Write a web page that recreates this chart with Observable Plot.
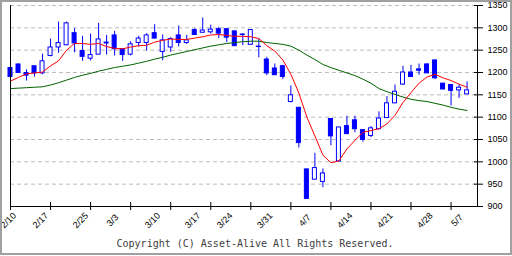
<!DOCTYPE html>
<html><head><meta charset="utf-8">
<script src="https://cdn.jsdelivr.net/npm/d3@7"></script>
<script src="https://cdn.jsdelivr.net/npm/@observablehq/plot@0.6"></script>
<style>
body{margin:0;background:#fff}
#wrap{position:relative;width:512px;height:256px;overflow:hidden;background:#fff}
#border{position:absolute;left:0;top:0;width:512px;height:255px;box-sizing:border-box;border:2px solid #a0a0a0;pointer-events:none}
</style></head><body>
<div id="wrap"><div id="border"></div></div>
<script>
// Daily candles (index = trading day)
const opens  = [1210,1218,1199,1214,1198,1237,1256,1261,1288,1248,1231,1240,1265,1283,1252,1240,1266,1266,1288,1246,1256,1283,1266,1295,1289,1290,1297,1297,1292,1284,1262,1258,1229,1209,1214,1134,1121,983,960,955,1096,1001,1080,1093,1071,1058,1073,1098,1131,1173,1200,1207,1218,1227,1175,1172,1160,1151];
const highs  = [1211,1219,1206,1214,1241,1275,1313,1313,1298,1281,1286,1310,1283,1292,1253,1269,1281,1287,1307,1284,1278,1304,1283,1298,1322,1306,1301,1297,1293,1287,1295,1275,1234,1219,1216,1170,1122,984,1019,984,1096,1077,1102,1102,1072,1079,1112,1146,1172,1214,1216,1219,1220,1228,1176,1172,1173,1179];
const lows   = [1190,1199,1181,1190,1195,1235,1243,1260,1244,1225,1226,1240,1239,1237,1225,1237,1257,1248,1275,1226,1245,1257,1263,1283,1289,1286,1276,1267,1259,1260,1262,1233,1193,1194,1184,1132,1031,917,960,942,1036,1000,1062,1065,1044,1054,1073,1097,1130,1171,1189,1194,1198,1184,1161,1125,1142,1151];
const closes = [1190,1199,1193,1198,1225,1256,1266,1310,1265,1235,1239,1274,1267,1252,1239,1263,1276,1283,1276,1272,1275,1266,1272,1284,1294,1296,1287,1278,1259,1285,1295,1257,1198,1194,1190,1149,1042,917,986,974,1057,1077,1062,1073,1049,1075,1097,1131,1157,1200,1190,1204,1198,1187,1162,1159,1166,1160];
// Moving averages
const maShort = [1181,1189,1197,1199,1201,1215,1226,1250,1265,1265,1263,1265,1258,1254,1253,1257,1260,1261,1268,1272,1275,1274,1274,1277,1280,1284,1285,1283,1281,1281,1280,1276,1260,1248,1228,1196,1154,1100,1058,1015,998,1002,1029,1048,1066,1070,1074,1085,1104,1133,1155,1176,1190,1196,1188,1182,1174,1167];
const maLong  = [1164,1165,1166,1167,1168,1172,1177,1183,1189,1194,1198,1203,1207,1211,1214,1217,1221,1225,1230,1234,1239,1243,1247,1251,1255,1259,1262,1265,1267,1269,1270,1270,1267,1265,1263,1259,1250,1239,1229,1218,1211,1205,1199,1193,1185,1176,1164,1157,1151,1145,1140,1137,1135,1131,1127,1122,1118,1115];
// Axis ticks and labels
const xTickIdx = [0,5,10,15,20,25,30,35,40,45,50,55];
const xLabelIdx = [0,4,9,13,18,23,27,32,37,42,47,52,56];
const xLabels = ["2/10","2/17","2/25","3/3","3/10","3/17","3/24","3/31","4/7","4/14","4/21","4/28","5/7"];
const yTicks = [900,950,1000,1050,1100,1150,1200,1250,1300,1350];
const yGrid = [950,1000,1050,1100,1150,1200,1250,1300,1350];
const xDomain = [0,58.3];
const yDomain = [900,1350];
const copyright = "Copyright (C) Asset-Alive All Rights Reserved.";

const candles = opens.map((o,i)=>({i, open:o, high:highs[i], low:lows[i], close:closes[i], up: closes[i] >= o}));
const upC = candles.filter(d=>d.up), downC = candles.filter(d=>!d.up);
const shortLine = maShort.map((v,i)=>({i,v}));
const longLine = maLong.map((v,i)=>({i,v}));
const labelData = xLabelIdx.map((i,k)=>({i, t:xLabels[k]}));
const blue = "#0000ff";

const chart = Plot.plot({
  width:512, height:256, marginLeft:10, marginRight:35, marginTop:5, marginBottom:50,
  x:{domain:xDomain, axis:null},
  y:{domain:yDomain, axis:null},
  style:{background:"transparent", overflow:"visible"},
  marks:[
    Plot.ruleY(yGrid, {y:d=>d, stroke:"#bdbdbd", strokeDasharray:"4,3"}),
    Plot.ruleX(candles, {x:"i", y1:"low", y2:"high", stroke:blue, strokeWidth:1}),
    Plot.rect(downC, {x1:d=>d.i-0.5, x2:d=>d.i+0.5, y1:"open", y2:"close", insetLeft:2, insetRight:2, fill:blue, stroke:blue, strokeWidth:1}),
    Plot.rect(upC, {x1:d=>d.i-0.5, x2:d=>d.i+0.5, y1:"open", y2:"close", insetLeft:2, insetRight:2, fill:"white", stroke:blue, strokeWidth:1}),
    Plot.line(longLine, {x:"i", y:"v", stroke:"#006400", strokeWidth:1}),
    Plot.line(shortLine, {x:"i", y:"v", stroke:"#ff0000", strokeWidth:1}),
    Plot.ruleX([xDomain[0], xDomain[1]], {x:d=>d, stroke:"black", strokeWidth:1}),
    Plot.ruleY([yDomain[0]], {y:d=>d, stroke:"black", strokeWidth:1}),
    Plot.tickX(xTickIdx, {x:d=>d, insetTop:197, insetBottom:-4, stroke:"black"}),
    Plot.tickY(yTicks, {y:d=>d, insetLeft:464, insetRight:-6, stroke:"black"}),
    Plot.axisY(yTicks, {anchor:"right", tickSize:0, tickPadding:10, tickFormat:d=>String(d), fontSize:9, fontFamily:"Liberation Sans", fill:"black"}),
    Plot.text(labelData, {x:"i", text:"t", frameAnchor:"bottom", dy:16, rotate:-45, fontSize:9, fontFamily:"Liberation Sans", fill:"black"}),
    Plot.text([copyright], {text:d=>d, frameAnchor:"bottom", dy:40, dx:11, fontSize:10, fontFamily:"DejaVu Sans Mono", fill:"#404040"})
  ]
});
document.getElementById("wrap").prepend(chart);
</script>
</body></html>
